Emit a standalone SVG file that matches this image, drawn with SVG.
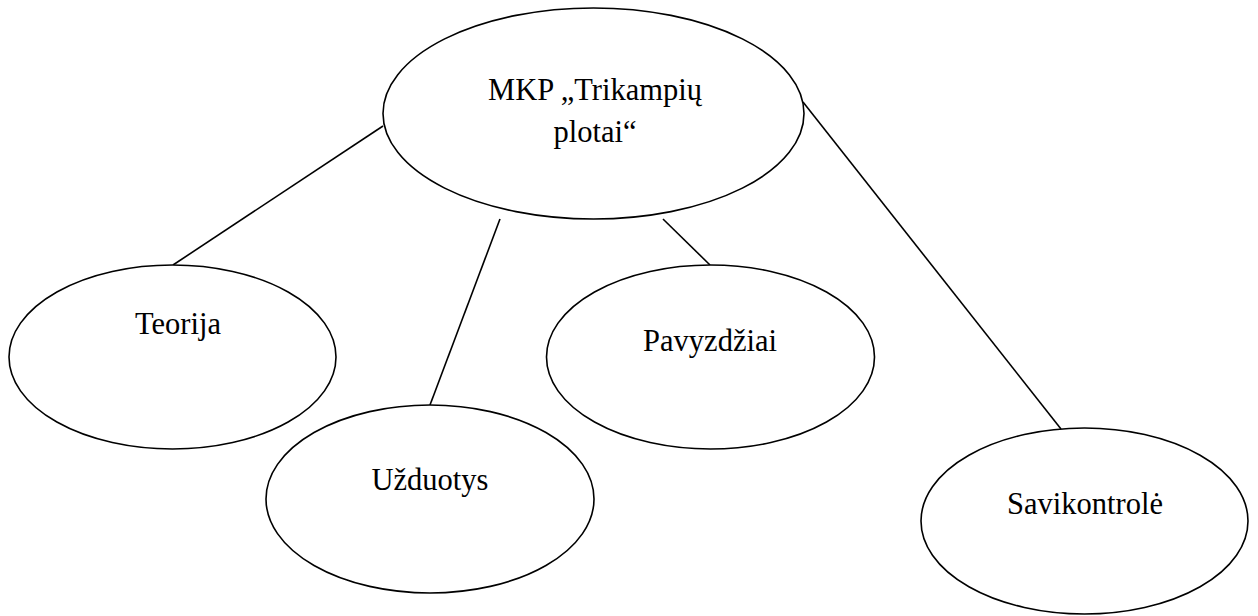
<svg xmlns="http://www.w3.org/2000/svg" width="1258" height="616" viewBox="0 0 1258 616">
  <style>
    .node { fill: #ffffff; stroke: #000000; stroke-width: 1.6; }
    .link { stroke: #000000; stroke-width: 1.6; fill: none; }
    .label { font-family: "Liberation Serif", "Times New Roman", serif; font-size: 30.5px; fill: #000000; text-anchor: middle; }
  </style>
  <rect width="1258" height="616" fill="#ffffff"/>

  <!-- connectors from the central topic to each section -->
  <g id="connectors">
    <line class="link" x1="383" y1="126" x2="173" y2="265"/>
    <line class="link" x1="500" y1="219" x2="430" y2="405"/>
    <line class="link" x1="663" y1="219" x2="710" y2="265"/>
    <line class="link" x1="803" y1="102" x2="1061" y2="429"/>
  </g>

  <g id="node-mkp">
    <ellipse class="node" cx="593.5" cy="113.5" rx="210.5" ry="105.5"/>
    <text class="label" x="595" y="100">MKP „Trikampių</text>
    <text class="label" x="595" y="142">plotai“</text>
  </g>

  <g id="node-teorija">
    <ellipse class="node" cx="172.5" cy="357" rx="163.5" ry="92"/>
    <text class="label" x="178" y="334">Teorija</text>
  </g>

  <g id="node-uzduotys">
    <ellipse class="node" cx="430" cy="499" rx="164" ry="94"/>
    <text class="label" x="430" y="490">Užduotys</text>
  </g>

  <g id="node-pavyzdziai">
    <ellipse class="node" cx="710.5" cy="357" rx="164" ry="92"/>
    <text class="label" x="710" y="351">Pavyzdžiai</text>
  </g>

  <g id="node-savikontrole">
    <ellipse class="node" cx="1084.5" cy="521" rx="163.5" ry="93"/>
    <text class="label" x="1085" y="514">Savikontrolė</text>
  </g>
</svg>
